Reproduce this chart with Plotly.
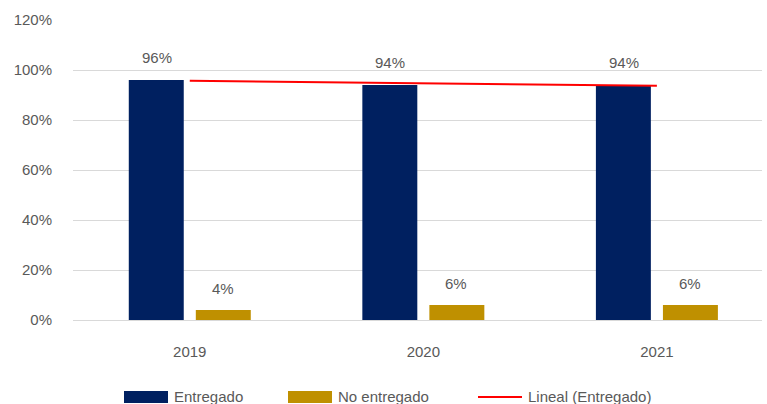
import numpy as np
import plotly.graph_objects as go

years = ["2019", "2020", "2021"]
entregado = [0.96, 0.94, 0.94]
no_entregado = [0.04, 0.06, 0.06]
y_ticks = [0, 0.2, 0.4, 0.6, 0.8, 1.0, 1.2]
y_tick_labels = ["0%", "20%", "40%", "60%", "80%", "100%", "120%"]
legend_names = ["Entregado", "No entregado", "Lineal (Entregado)"]

NAVY = "#002060"
GOLD = "#BF9000"
RED = "#FF0000"
GRAY = "#595959"
GRID = "#D9D9D9"
FONT = "Liberation Sans, Arial"

# Linear trendline (Excel "Lineal") of Entregado
xs = np.arange(1, len(years) + 1)
slope, intercept = np.polyfit(xs, entregado, 1)
trend = list(slope * xs + intercept)

W, H = 767, 404
L, R, T, B = 73, 5, 20, 84
PW, PH = W - L - R, H - T - B


def px(x):
    return (x - L) / PW


def py(y):
    return (H - B - y) / PH


fig = go.Figure()
fig.add_trace(go.Bar(x=years, y=entregado, name=legend_names[0], marker_color=NAVY,
                     marker_line_width=0))
fig.add_trace(go.Bar(x=years, y=no_entregado, name=legend_names[1], marker_color=GOLD,
                     marker_line_width=0))
fig.add_trace(go.Scatter(x=years, y=trend, name=legend_names[2], mode="lines",
                         line=dict(color=RED, width=2)))

# value labels (category index positions)
for i, yr in enumerate(years):
    fig.add_annotation(x=i, y=entregado[i], text=f"{round(entregado[i]*100)}%",
                       xref="x", yref="y", showarrow=False, xshift=-33, yshift=23,
                       font=dict(family=FONT, size=15, color=GRAY))
    fig.add_annotation(x=i, y=no_entregado[i], text=f"{round(no_entregado[i]*100)}%",
                       xref="x", yref="y", showarrow=False, xshift=33, yshift=22,
                       font=dict(family=FONT, size=15, color=GRAY))

# custom legend (wide swatches as in the reference)
shapes = [
    dict(type="rect", xref="paper", yref="paper", x0=px(124), x1=px(168), y0=py(403), y1=py(391),
         fillcolor=NAVY, line_width=0),
    dict(type="rect", xref="paper", yref="paper", x0=px(288), x1=px(332), y0=py(403), y1=py(391),
         fillcolor=GOLD, line_width=0),
    dict(type="line", xref="paper", yref="paper", x0=px(478), x1=px(522), y0=py(397), y1=py(397),
         line=dict(color=RED, width=2)),
]
for xpos, name in zip([172, 336, 526], legend_names):
    fig.add_annotation(x=px(xpos), y=py(396), xref="paper", yref="paper", text=name,
                       showarrow=False, xanchor="left", yanchor="middle",
                       font=dict(family=FONT, size=15, color=GRAY))

fig.update_layout(
    width=W, height=H,
    margin=dict(l=L, r=R, t=T, b=B),
    paper_bgcolor="white", plot_bgcolor="white",
    barmode="group", bargap=0.426, bargroupgap=0.18,
    font=dict(family=FONT, size=15, color=GRAY),
    showlegend=False,
    shapes=shapes,
    xaxis=dict(type="category", range=[-0.5, 2.45], showgrid=False, showline=True,
               linecolor=GRID, linewidth=1, ticks="", ticklabelstandoff=18,
               tickfont=dict(family=FONT, size=15, color=GRAY)),
    yaxis=dict(range=[0, 1.2], tickvals=y_ticks, ticktext=y_tick_labels,
               showgrid=True, gridcolor=GRID, gridwidth=1, zeroline=False,
               ticks="", ticklabelstandoff=20, tickfont=dict(family=FONT, size=15, color=GRAY)),
)

fig.write_html("out.html")
